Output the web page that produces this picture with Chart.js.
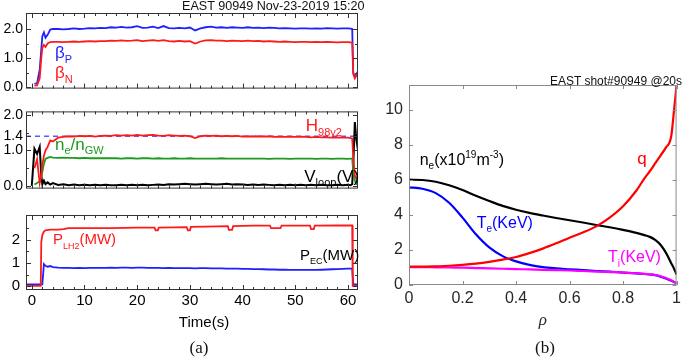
<!DOCTYPE html>
<html>
<head>
<meta charset="utf-8">
<script src="https://cdn.jsdelivr.net/npm/chart.js@4.4.1/dist/chart.umd.min.js"></script>
<style>
  html, body { margin: 0; padding: 0; background: #fff; }
  body { width: 685px; height: 358px; position: relative; overflow: hidden; font-family: 'Liberation Sans', Arial, sans-serif; }
  canvas { position: absolute; }
  .txt { position: absolute; white-space: nowrap; color: #111; }
  .cap { font-family: 'Liberation Serif', 'Times New Roman', serif; font-size: 17px; line-height: 20px; text-align: center; width: 100px; }
</style>
</head>
<body>
<canvas id="cTop" width="380" height="100" style="left:0;top:0"></canvas>
<canvas id="cMid" width="380" height="100" style="left:0;top:100px"></canvas>
<canvas id="cBot" width="380" height="158" style="left:0;top:200px"></canvas>
<canvas id="cProf" width="315" height="358" style="left:370px;top:0"></canvas>
<div class="txt" style="left:182px;top:-1px;font-size:12.6px;line-height:14px">EAST 90949 Nov-23-2019 15:20</div>
<div class="txt" style="right:3px;top:74px;font-size:12px;line-height:14px">EAST shot#90949 @20s</div>
<div class="txt" style="left:154px;top:313px;width:100px;text-align:center;font-size:15px;line-height:18px;color:#000">Time(s)</div>
<div class="txt cap" style="left:149px;top:338px">(a)</div>
<div class="txt cap" style="left:495px;top:338px">(b)</div>
<script>
// ========================================
// Data - panel (a): time traces, shot 90949
// ========================================
const tA = [
    -1, 0, 0.5, 1, 1.5, 1.8, 2, 2.3, 2.6, 3,
    3.5, 4, 5, 6, 7, 8, 9, 10, 11, 12,
    13, 14, 15, 16, 17, 18, 19, 20, 21, 22,
    23, 24, 25, 26, 27, 28, 29, 30, 31, 32,
    33, 34, 35, 36, 37, 38, 39, 40, 41, 42,
    43, 44, 45, 46, 47, 48, 49, 50, 51, 52,
    53, 54, 55, 56, 57, 58, 59, 60, 60.5, 60.8,
    61.0, 61.3, 61.6, 61.9
];
const betaP = [
    null, null, 0.12, 0.13, 0.6, 1.3, 1.75, 1.88, 1.7, 1.8,
    1.98, 2.0, 2.0, 1.99, 2.0, 2.02, 2.0, 2.01, 2.03, 2.02,
    2.04, 2.03, 2.06, 2.05, 2.07, 2.05, 2.06, 2.1, 2.04, 2.05,
    2.08, 2.03, 2.1, 2.03, 2.02, 2.04, 2.02, 2.05, 1.95, 2.02,
    2.06, 2.08, 2.05, 2.06, 2.04, 2.06, 2.05, 2.04, 2.06, 2.04,
    2.05, 2.03, 2.05, 2.04, 2.02, 2.03, 2.02, 2.01, 2.02, 2.02,
    2.01, 2.02, 2.01, 2.03, 2.02, 2.01, 2.02, 2.02, 2.01, 2.0,
    0.5, 0.35, 0.45, 0.55
];
const betaN = [
    null, null, 0.05, 0.06, 0.3, 1.0, 1.35, 1.45, 1.38, 1.5,
    1.55, 1.56, 1.56, 1.55, 1.56, 1.57, 1.56, 1.57, 1.58, 1.57,
    1.58, 1.58, 1.6, 1.59, 1.61, 1.59, 1.6, 1.62, 1.58, 1.6,
    1.62, 1.59, 1.62, 1.58, 1.57, 1.59, 1.57, 1.58, 1.5, 1.57,
    1.61, 1.62, 1.6, 1.6, 1.58, 1.6, 1.59, 1.58, 1.6, 1.58,
    1.59, 1.57, 1.58, 1.57, 1.56, 1.57, 1.56, 1.55, 1.56, 1.56,
    1.55, 1.56, 1.55, 1.56, 1.55, 1.54, 1.55, 1.55, 1.54, 1.53,
    0.45, 0.3, 0.4, 0.5
];
const h98 = [
    null, null, 0.5, 0.75, 0.08, 0.3, 0.6, 0.85, 1.0, 1.1,
    1.28, 1.25, 1.36, 1.38, 1.4, 1.39, 1.41, 1.4, 1.41, 1.39,
    1.41, 1.42, 1.41, 1.43, 1.42, 1.43, 1.42, 1.44, 1.42, 1.43,
    1.44, 1.42, 1.41, 1.43, 1.42, 1.41, 1.42, 1.4, 1.35, 1.4,
    1.42, 1.41, 1.42, 1.4, 1.41, 1.4, 1.41, 1.39, 1.4, 1.39,
    1.4, 1.39, 1.4, 1.38, 1.39, 1.38, 1.39, 1.38, 1.39, 1.38,
    1.37, 1.38, 1.37, 1.37, 1.36, 1.37, 1.36, 1.36, 1.35, 1.34,
    0.8, 0.3, 0.2, 0.2
];
const neGW = [
    null, null, 0.04, 0.08, 0.14, 0.25, 0.4, 0.62, 0.76, 0.79,
    0.82, 0.8, 0.79, 0.8, 0.79, 0.79, 0.78, 0.79, 0.78, 0.78,
    0.78, 0.78, 0.78, 0.78, 0.77, 0.78, 0.78, 0.77, 0.78, 0.78,
    0.77, 0.78, 0.77, 0.77, 0.78, 0.77, 0.77, 0.78, 0.77, 0.77,
    0.77, 0.77, 0.77, 0.78, 0.77, 0.77, 0.77, 0.77, 0.77, 0.77,
    0.77, 0.77, 0.76, 0.77, 0.77, 0.77, 0.76, 0.77, 0.77, 0.77,
    0.77, 0.76, 0.77, 0.77, 0.76, 0.77, 0.77, 0.76, 0.77, 0.77,
    0.4, 0.15, 0.05, 0.05
];
const vLoop = [
    null, 0.0, 1.05, 0.9, 1.1, 0.3, 0.05, 0.15, 0.05, 0.1,
    0.04, 0.08, 0.03, 0.05, 0.02, 0.04, 0.02, 0.03, 0.02, 0.03,
    0.02, 0.03, 0.02, 0.02, 0.03, 0.02, 0.03, 0.02, 0.03, 0.02,
    0.03, 0.04, 0.03, 0.05, 0.04, 0.05, 0.06, 0.05, 0.04, 0.05,
    0.06, 0.05, 0.04, 0.05, 0.06, 0.04, 0.05, 0.04, 0.03, 0.04,
    0.03, 0.04, 0.03, 0.02, 0.03, 0.02, 0.03, 0.02, 0.03, 0.02,
    0.03, 0.02, 0.03, 0.02, 0.02, 0.03, 0.02, 0.03, 0.02, 0.05,
    0.6, 1.8, 1.3, 1.0
];
const pEC = [
    0.08, 0.08, 0.08, 0.08, 0.08, 0.08, 0.08, 0.95, 0.88, 0.84,
    0.87, 0.82, 0.8, 0.79, 0.79, 0.78, 0.79, 0.78, 0.79, 0.79,
    0.79, 0.79, 0.8, 0.79, 0.8, 0.8, 0.79, 0.8, 0.8, 0.79,
    0.79, 0.79, 0.78, 0.79, 0.78, 0.78, 0.78, 0.78, 0.77, 0.78,
    0.78, 0.77, 0.77, 0.77, 0.76, 0.76, 0.76, 0.75, 0.75, 0.74,
    0.74, 0.73, 0.72, 0.72, 0.71, 0.71, 0.7, 0.7, 0.7, 0.7,
    0.7, 0.7, 0.71, 0.72, 0.73, 0.74, 0.75, 0.76, 0.76, 0.76,
    0.08, 0.08, 0.08, 0.08
];
// LH power has short notches, so it gets its own time base
const tLH = [
    -1, 1.7, 1.8, 2.0, 2.3, 2.6, 3.5, 5, 6, 7,
    10, 15, 20, 23.3, 23.5, 23.9, 24.1, 27, 29.4, 29.6,
    30.0, 30.2, 33, 37.2, 37.4, 38.0, 38.2, 42, 45.2, 45.4,
    47.2, 47.4, 50, 52.8, 53.0, 53.5, 53.7, 58, 60.8, 60.9,
    61.9
];
const pLH = [
    0.02, 0.02, 1.9, 2.2, 2.35, 2.4, 2.43, 2.43, 2.45, 2.5,
    2.5, 2.5, 2.52, 2.52, 2.4, 2.4, 2.52, 2.53, 2.54, 2.4,
    2.4, 2.55, 2.56, 2.58, 2.42, 2.42, 2.58, 2.6, 2.6, 2.5,
    2.5, 2.6, 2.6, 2.6, 2.45, 2.45, 2.6, 2.61, 2.61, 0.02,
    0.02
];
const h98Ref = 1.4;

// ========================================
// Data - panel (b): profiles @20s
// ========================================
const rho = [0, 0.05, 0.1, 0.15, 0.2, 0.25, 0.3, 0.35, 0.4, 0.45, 0.5, 0.55, 0.6,
             0.65, 0.7, 0.75, 0.8, 0.85, 0.88, 0.9, 0.92, 0.94, 0.96, 0.98, 0.99, 1.0];
const neProf = [6.02, 6.0, 5.9, 5.7, 5.43, 5.1, 4.8, 4.52, 4.3, 4.12, 3.97, 3.83, 3.7,
                3.57, 3.43, 3.3, 3.15, 2.98, 2.85, 2.75, 2.58, 2.3, 1.85, 1.25, 0.95, 0.6];
const teProf = [5.58, 5.5, 5.25, 4.7, 3.85, 2.9, 2.15, 1.65, 1.35, 1.15, 1.02, 0.95, 0.9,
                0.85, 0.8, 0.76, 0.71, 0.66, 0.63, 0.6, 0.56, 0.48, 0.37, 0.24, 0.17, 0.1];
const tiProf = [1.02, 1.02, 1.01, 1.0, 0.99, 0.97, 0.95, 0.93, 0.91, 0.89, 0.87, 0.85, 0.83,
                0.8, 0.77, 0.74, 0.71, 0.67, 0.64, 0.61, 0.57, 0.5, 0.4, 0.27, 0.18, 0.1];
const qProf = [1.05, 1.05, 1.07, 1.1, 1.15, 1.22, 1.32, 1.45, 1.6, 1.82, 2.08, 2.38, 2.7,
               3.0, 3.35, 3.85, 4.5, 5.4, 6.1, 6.5, 6.95, 7.4, 7.85, 8.5, 9.9, 11.43];

// Tick labels
const timeTicks = [0, 10, 20, 30, 40, 50, 60];
const betaTicks = [0, 1, 2];
const midTicks = [0, 1, 1.4, 2];
const powTicks = [0, 1, 2];
const rhoTicks = [0, 0.2, 0.4, 0.6, 0.8, 1];
const profTicks = [0, 2, 4, 6, 8, 10];

const FONT = "'Liberation Sans', Arial, sans-serif";
const T_MIN = -1.1, T_MAX = 61.9;
const RED = '#ff1a1a', BLUE = '#1f1fff', GREEN = '#1e9a1e';

function xy(xs, ys) {
    return xs.map((x, i) => ({ x: x, y: ys[i] }));
}

function line(data, color, width, extra) {
    return Object.assign({
        data: data,
        borderColor: color,
        borderWidth: width,
        pointRadius: 0,
        tension: 0,
        spanGaps: false,
        fill: false
    }, extra || {});
}

// ========================================
// Plugins: box frame with inward ticks, text labels
// ========================================
const framePlugin = {
    id: 'frame',
    afterDatasetsDraw(chart, args, o) {
        const { ctx, chartArea: a, scales: { x, y } } = chart;
        ctx.save();
        ctx.strokeStyle = o.color;
        ctx.lineWidth = 1;
        ctx.strokeRect(a.left + 0.5, a.top + 0.5, a.right - a.left - 1, a.bottom - a.top - 1);
        ctx.beginPath();
        const xTick = (v, len) => {
            const p = Math.round(x.getPixelForValue(v)) + 0.5;
            ctx.moveTo(p, a.bottom); ctx.lineTo(p, a.bottom - len);
            ctx.moveTo(p, a.top); ctx.lineTo(p, a.top + len);
        };
        const yTick = (v, len) => {
            const p = Math.round(y.getPixelForValue(v)) + 0.5;
            ctx.moveTo(a.left, p); ctx.lineTo(a.left + len, p);
            ctx.moveTo(a.right, p); ctx.lineTo(a.right - len, p);
        };
        x.ticks.forEach(t => xTick(t.value, o.len));
        y.ticks.forEach(t => yTick(t.value, o.len));
        (o.minorX || []).forEach(v => xTick(v, o.minorLen));
        (o.minorY || []).forEach(v => yTick(v, o.minorLen));
        ctx.stroke();
        ctx.restore();
    }
};

const notePlugin = {
    id: 'notes',
    afterDatasetsDraw(chart, args, o) {
        const { ctx, scales: { x, y } } = chart;
        ctx.save();
        ctx.textBaseline = 'alphabetic';
        ctx.textAlign = 'left';
        (o.items || []).forEach(it => {
            let px = x.getPixelForValue(it.x);
            const py = y.getPixelForValue(it.y);
            ctx.fillStyle = it.color;
            it.parts.forEach(([txt, kind]) => {
                let size = it.size, dy = 0;
                if (kind === 'sub') { size = Math.round(it.size * 0.62); dy = it.size * 0.28; }
                if (kind === 'sup') { size = Math.round(it.size * 0.62); dy = -it.size * 0.42; }
                ctx.font = size + 'px ' + FONT;
                ctx.fillText(txt, px, py + dy);
                px += ctx.measureText(txt).width;
            });
        });
        ctx.restore();
    }
};

// ========================================
// Panel (a) builder
// ========================================
function traceChart(id, cfg) {
    const minorT = [];
    for (let t = 2; t < T_MAX; t += 2) if (t % 10) minorT.push(t);
    return new Chart(document.getElementById(id), {
        type: 'line',
        data: { datasets: cfg.datasets },
        plugins: [framePlugin, notePlugin],
        options: {
            responsive: false,
            animation: false,
            layout: { padding: { top: cfg.padTop, right: 22, left: 0, bottom: 0 } },
            plugins: {
                legend: { display: false },
                tooltip: { enabled: false },
                frame: { color: '#333', len: 5, minorLen: 3, minorX: minorT, minorY: cfg.minorY },
                notes: { items: cfg.notes }
            },
            scales: {
                x: {
                    type: 'linear', min: T_MIN, max: T_MAX,
                    afterBuildTicks: s => { s.ticks = timeTicks.map(v => ({ value: v })); },
                    afterFit: s => { s.height = cfg.xHeight; },
                    grid: { display: false, drawTicks: false },
                    border: { display: false },
                    ticks: {
                        display: cfg.showX, autoSkip: false, maxRotation: 0, minRotation: 0,
                        padding: 2, color: '#000', font: { family: FONT, size: 15 }
                    }
                },
                y: {
                    type: 'linear', min: cfg.yMin, max: cfg.yMax,
                    afterBuildTicks: s => { s.ticks = cfg.yTicks.map(v => ({ value: v })); },
                    afterFit: s => { s.width = 26; },
                    grid: { display: false, drawTicks: false },
                    border: { display: false },
                    ticks: {
                        autoSkip: false, padding: cfg.yPad, color: '#000',
                        font: { family: FONT, size: cfg.ySize },
                        callback: cfg.yFmt
                    }
                }
            }
        }
    });
}

document.addEventListener('DOMContentLoaded', function () {
    // beta_p / beta_N
    traceChart('cTop', {
        padTop: 13, xHeight: 2, showX: false,
        yMin: -0.05, yMax: 2.55, yTicks: betaTicks, minorY: [0.5, 1.5],
        yPad: 3, ySize: 14, yFmt: v => v.toFixed(1),
        datasets: [
            line(xy(tA, betaN), RED, 1.8),
            line(xy(tA, betaP), BLUE, 1.8)
        ],
        notes: [
            { x: 4.4, y: 0.99, color: BLUE, size: 17, parts: [['\u03b2', 'n'], ['P', 'sub']] },
            { x: 4.4, y: 0.317, color: RED, size: 17, parts: [['\u03b2', 'n'], ['N', 'sub']] }
        ]
    });

    // H98, ne/nGW, Vloop
    traceChart('cMid', {
        padTop: 8, xHeight: 5, showX: false,
        yMin: -0.075, yMax: 2.1, yTicks: midTicks, minorY: [0.5, 1.5],
        yPad: 3, ySize: 14, yFmt: v => v.toFixed(1),
        datasets: [
            line(xy(tA, h98), RED, 1.8),
            line(xy(tA, neGW), GREEN, 1.8),
            line(xy(tA, vLoop), '#000', 2),
            line(xy([T_MIN, T_MAX], [h98Ref, h98Ref]), '#5a5aff', 1.4, { borderDash: [5, 4] })
        ],
        notes: [
            { x: 52.0, y: 1.55, color: RED, size: 17, parts: [['H', 'n'], ['98y2', 'sub']] },
            { x: 4.4, y: 1.025, color: GREEN, size: 17, parts: [['n', 'n'], ['e', 'sub'], ['/n', 'n'], ['GW', 'sub']] },
            { x: 51.7, y: 0.125, color: '#000', size: 17, parts: [['V', 'n'], ['loop', 'sub'], ['(V)', 'n']] }
        ]
    });

    // LH and EC power
    traceChart('cBot', {
        padTop: 3, xHeight: 68, showX: true,
        yMin: -0.16, yMax: 3.06, yTicks: powTicks, minorY: [0.5, 1.5, 2.5],
        yPad: 6, ySize: 15, yFmt: v => String(v),
        datasets: [
            line(xy(tLH, pLH), RED, 1.8),
            line(xy(tA, pEC), BLUE, 1.8)
        ],
        notes: [
            { x: 4.0, y: 1.80, color: RED, size: 15, parts: [['P', 'n'], ['LH2', 'sub'], ['(MW)', 'n']] },
            { x: 50.9, y: 1.135, color: '#000', size: 15, parts: [['P', 'n'], ['EC', 'sub'], ['(MW)', 'n']] }
        ]
    });

    // ========================================
    // Panel (b): radial profiles
    // ========================================
    const smooth = { cubicInterpolationMode: 'monotone' };
    new Chart(document.getElementById('cProf'), {
        type: 'line',
        data: {
            datasets: [
                line(xy(rho, qProf), '#ff0000', 2.2, smooth),
                line(xy(rho, tiProf), '#ff00ff', 2.2, smooth),
                line(xy(rho, teProf), '#0000ff', 2.2, smooth),
                line(xy(rho, neProf), '#000', 2.2, smooth)
            ]
        },
        plugins: [framePlugin, notePlugin],
        options: {
            responsive: false,
            animation: false,
            layout: { padding: { top: 85, right: 3, left: 0, bottom: 0 } },
            plugins: {
                legend: { display: false },
                tooltip: { enabled: false },
                frame: { color: '#8a8a8a', len: 4, minorLen: 0 },
                notes: {
                    items: [
                        { x: 0.04, y: 6.86, color: '#000', size: 16,
                          parts: [['n', 'n'], ['e', 'sub'], ['(x10', 'n'], ['19', 'sup'], ['m', 'n'], ['-3', 'sup'], [')', 'n']] },
                        { x: 0.853, y: 6.91, color: '#ff0000', size: 17, parts: [['q', 'n']] },
                        { x: 0.253, y: 3.26, color: '#0000ff', size: 16, parts: [['T', 'n'], ['e', 'sub'], ['(KeV)', 'n']] },
                        { x: 0.744, y: 1.31, color: '#ff00ff', size: 16, parts: [['T', 'n'], ['i', 'sub'], ['(KeV)', 'n']] }
                    ]
                }
            },
            scales: {
                x: {
                    type: 'linear', min: 0, max: 1,
                    afterBuildTicks: s => { s.ticks = rhoTicks.map(v => ({ value: v })); },
                    afterFit: s => { s.height = 73; },
                    grid: { display: false, drawTicks: false },
                    border: { display: false },
                    ticks: {
                        autoSkip: false, maxRotation: 0, minRotation: 0, padding: 4,
                        color: '#262626', font: { family: FONT, size: 16 },
                        callback: v => String(v)
                    },
                    title: {
                        display: true, text: '\u03c1', color: '#262626',
                        font: { family: "'Liberation Serif', serif", size: 17, style: 'italic' },
                        padding: { top: 0, bottom: 27 }
                    }
                },
                y: {
                    type: 'linear', min: 0, max: 11.43,
                    afterBuildTicks: s => { s.ticks = profTicks.map(v => ({ value: v })); },
                    afterFit: s => { s.width = 39; },
                    grid: { display: false, drawTicks: false },
                    border: { display: false },
                    ticks: {
                        autoSkip: false, padding: 6, color: '#262626',
                        font: { family: FONT, size: 16 }
                    }
                }
            }
        }
    });
});
</script>
</body>
</html>
